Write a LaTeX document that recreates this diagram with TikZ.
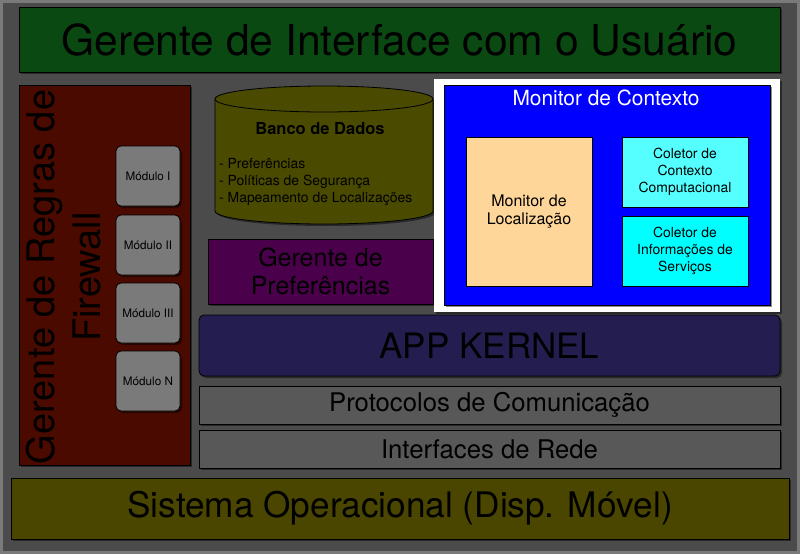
\documentclass[tikz,border=0pt]{standalone}
\usepackage{fontspec}
\setmainfont{TeX Gyre Heros}
\usetikzlibrary{shadows}
\definecolor{bgc}{HTML}{4B4B4B}
\definecolor{bordc}{HTML}{7A7A7A}
\definecolor{greenc}{HTML}{0A4A12}
\definecolor{redc}{HTML}{4A0A00}
\definecolor{olivec}{HTML}{4A4A00}
\definecolor{purplec}{HTML}{4A004A}
\definecolor{kernelc}{HTML}{241E50}
\definecolor{protoc}{HTML}{585858}
\definecolor{modc}{HTML}{7A7A7A}
\definecolor{soc}{HTML}{4A4600}
\definecolor{bluec}{HTML}{0000FF}
\definecolor{peachc}{HTML}{FFD699}
\definecolor{cyanA}{HTML}{55FFFF}
\definecolor{cyanB}{HTML}{00FFFF}
\begin{document}
\begin{tikzpicture}[x=1pt,y=-1pt,
  box/.style={draw=black, line width=0.8pt, inner sep=0pt, align=center,
    drop shadow={shadow xshift=2pt, shadow yshift=-2pt, opacity=0.45, fill=black}},
  flat/.style={draw=black, line width=0.8pt, inner sep=0pt, align=center}]
\useasboundingbox (0,0) rectangle (800,554);
\fill[bordc] (0,0) rectangle (800,554);
\fill[bgc] (3,3) rectangle (797,551);

% top bar
\node[box, fill=greenc, minimum width=761pt, minimum height=65pt,
  font=\fontsize{42.6}{46}\selectfont] (gui) at (399.5,39.5) {Gerente de Interface com o Usuário};

% firewall
\node[box, fill=redc, minimum width=171pt, minimum height=380pt] (fw) at (104.5,275) {};
\node[rotate=90, align=center, font=\fontsize{38}{46}\selectfont, inner sep=0pt] (fwt) at (64,277) {Gerente de Regras de\\Firewall};
\foreach \n/\t/\y in {m1/Módulo I/176, m2/Módulo II/245, m3/Módulo III/313, mn/Módulo N/381}{
  \node[box, fill=modc, rounded corners=5pt, minimum width=64pt, minimum height=60pt,
    font=\fontsize{11.7}{13}\selectfont] (\n) at (148,\y) {\t};
}

% database cylinder
\fill[black, opacity=0.45, shift={(2,2)}] (215,99) -- (215,211) arc[start angle=180, end angle=0, x radius=109, y radius=13] -- (433,99) -- cycle;
\filldraw[fill=olivec, draw=black, line width=0.8pt] (215,99) -- (215,211) arc[start angle=180, end angle=0, x radius=109, y radius=13] -- (433,99);
\filldraw[fill=olivec, draw=black, line width=0.8pt] (324,99) ellipse[x radius=109, y radius=13];
\node[font=\bfseries\fontsize{16.5}{19}\selectfont] (dbt) at (320,129) {Banco de Dados};
\node[anchor=west, align=left, inner sep=0pt, font=\fontsize{13.9}{17}\selectfont] (dbl) at (219,182)
  {- Preferências\\- Políticas de Segurança\\- Mapeamento de Localizações};

% preferences
\node[box, fill=purplec, minimum width=225pt, minimum height=65pt,
  font=\fontsize{25}{28}\selectfont] (pref) at (320.5,271.5) {Gerente de\\Preferências};

% monitor de contexto
\node[box, fill=white, draw=none, minimum width=346pt, minimum height=233pt] (frame) at (607,195.5) {};
\node[box, fill=bluec, minimum width=326pt, minimum height=220pt] (mc) at (607,195) {};
\node[text=white, font=\fontsize{20.9}{24}\selectfont] (mct) at (606,98) {Monitor de Contexto};
\node[flat, fill=peachc, minimum width=126pt, minimum height=149pt,
  font=\fontsize{16}{18}\selectfont] (ml) at (529,211.5) {Monitor de\\Localização};
\node[flat, fill=cyanA, minimum width=126pt, minimum height=70pt,
  font=\fontsize{13.9}{17}\selectfont] (cc) at (685,172) {Coletor de\\Contexto\\Computacional};
\node[flat, fill=cyanB, minimum width=126pt, minimum height=70pt,
  font=\fontsize{13.9}{17}\selectfont] (ci) at (685,251) {Coletor de\\Informações de\\Serviços};

% kernel and lower layers
\node[box, fill=kernelc, rounded corners=5pt, minimum width=581pt, minimum height=61pt,
  font=\fontsize{35}{40}\selectfont] (kern) at (489.5,345.5) {APP KERNEL};
\node[box, fill=protoc, minimum width=581pt, minimum height=38pt,
  font=\fontsize{25.7}{28}\selectfont] (proto) at (489.5,405) {Protocolos de Comunicação};
\node[box, fill=protoc, minimum width=581pt, minimum height=38pt,
  font=\fontsize{25.7}{28}\selectfont] (net) at (489.5,449) {Interfaces de Rede};
\node[box, fill=soc, minimum width=778pt, minimum height=61pt,
  font=\fontsize{35.2}{40}\selectfont] (so) at (400,508.5) {Sistema Operacional (Disp. Móvel)};
\end{tikzpicture}
\end{document}
